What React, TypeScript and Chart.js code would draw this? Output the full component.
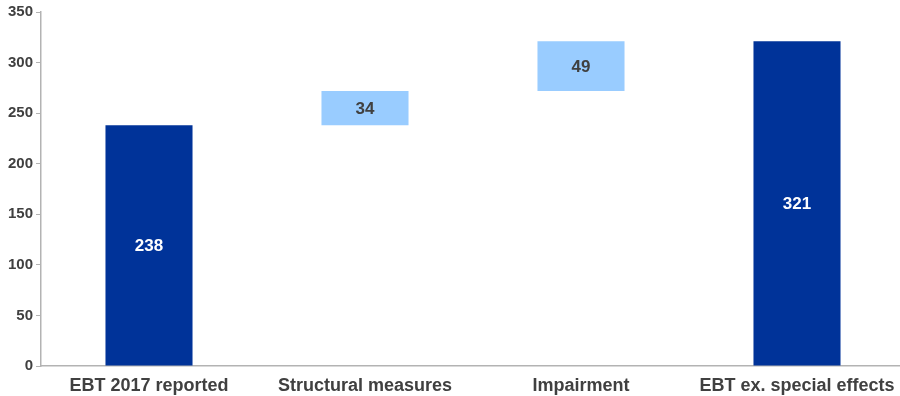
import React, { useEffect, useRef } from "react";
import { Chart, registerables } from "chart.js";

Chart.register(...registerables);

const categories = ["EBT 2017 reported", "Structural measures", "Impairment", "EBT ex. special effects"];
const values = [238, 34, 49, 321];
const isTotal = [true, false, false, true];
const yTicks = [0, 50, 100, 150, 200, 250, 300, 350];

const DARK = "#003399";
const LIGHT = "#99ccff";
const FONT = "'Liberation Sans', Arial, sans-serif";

export default function App() {
  const ref = useRef<HTMLCanvasElement | null>(null);

  useEffect(() => {
    if (!ref.current) return;
    let running = 0;
    const ranges = values.map((v, i) => {
      if (isTotal[i]) {
        running = v;
        return [0, v];
      }
      const r = [running, running + v];
      running += v;
      return r;
    });

    const labelPlugin = {
      id: "barLabels",
      afterDatasetsDraw(chart: any) {
        const ctx = chart.ctx;
        const meta = chart.getDatasetMeta(0);
        ctx.save();
        ctx.font = `bold 17px ${FONT}`;
        ctx.textAlign = "center";
        ctx.textBaseline = "middle";
        meta.data.forEach((bar: any, i: number) => {
          const y = (bar.y + bar.base) / 2;
          ctx.fillStyle = isTotal[i] ? "#ffffff" : "#404040";
          ctx.fillText(String(values[i]), bar.x, y + 1);
        });
        ctx.restore();
      },
    };

    const chart = new Chart(ref.current, {
      type: "bar",
      data: {
        labels: categories,
        datasets: [
          {
            data: ranges as any,
            backgroundColor: isTotal.map((t) => (t ? DARK : LIGHT)),
            borderSkipped: false,
            categoryPercentage: 1,
            barPercentage: 0.403,
          },
        ],
      },
      options: {
        animation: false,
        responsive: false,
        maintainAspectRatio: false,
        layout: { padding: { top: 7, right: 0, left: 0, bottom: 0 } },
        plugins: { legend: { display: false }, tooltip: { enabled: false } },
        scales: {
          x: {
            afterFit: (s: any) => {
              s.height = 30;
            },
            grid: { display: false, drawTicks: false },
            border: { display: true, color: "#b3b3b3", width: 1.5 },
            ticks: {
              color: "#404040",
              font: { family: FONT, size: 18, weight: "bold" },
              padding: 9,
              maxRotation: 0,
              autoSkip: false,
            },
          },
          y: {
            min: 0,
            max: 350,
            afterBuildTicks: (s: any) => {
              s.ticks = yTicks.map((v) => ({ value: v }));
            },
            afterFit: (s: any) => {
              s.width = 41;
            },
            grid: { drawOnChartArea: false, drawTicks: true, tickLength: 5, color: "#b3b3b3" },
            border: { display: true, color: "#b3b3b3", width: 1.5 },
            ticks: {
              color: "#404040",
              font: { family: FONT, size: 15, weight: "bold" },
              padding: 3,
            },
          },
        },
      },
      plugins: [labelPlugin],
    });
    return () => chart.destroy();
  }, []);

  return (
    <div style={{ position: "fixed", left: 0, top: 0, width: 900, height: 396, overflow: "hidden", background: "#fff" }}>
      <canvas ref={ref} width={905} height={396} style={{ display: "block", width: 905, height: 396 }} />
    </div>
  );
}
